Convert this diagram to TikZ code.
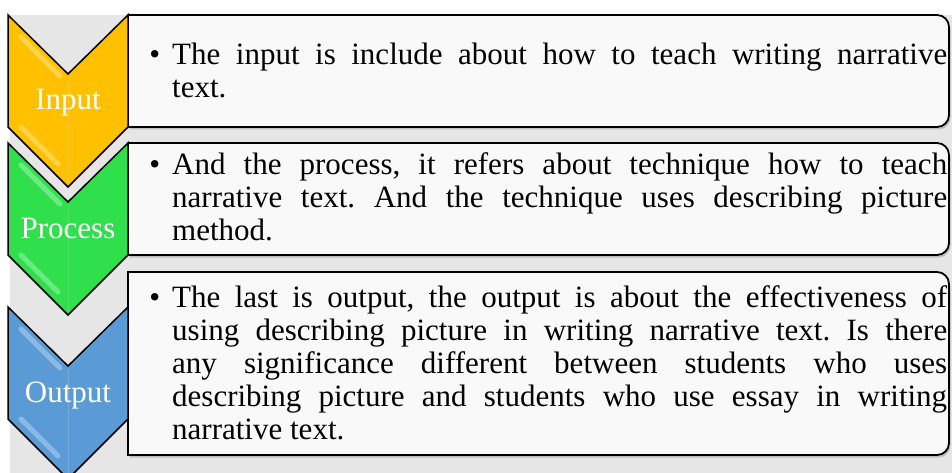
\documentclass[tikz,border=0pt]{standalone}
\usepackage{fontspec}
\setmainfont{Liberation Serif}
\usepackage{xcolor}
\usepackage{tikz}
\usetikzlibrary{positioning}
\definecolor{gold}{HTML}{FFC000}
\definecolor{leaf}{HTML}{30DF4C}
\definecolor{sky}{HTML}{5B9BD5}
\definecolor{panel}{HTML}{E6E6E6}
\definecolor{card}{HTML}{F9F9F9}
% one stretched line of a justified paragraph, and the hanging bullet
\newcommand\fullline[1]{\leavevmode\hbox to 775pt{#1}}
\newcommand\bul{\llap{\textbullet\hspace{12pt}}}
% text card, square on the left and rounded on the right
\newcommand\cardpath[2]{(128,-#1) -- (937,-#1) arc[start angle=90,end angle=0,radius=12] -- (949,-#2+12) arc[start angle=0,end angle=-90,radius=12] -- (128,-#2) -- cycle}

\begin{document}
\frenchspacing
\begin{tikzpicture}[x=1pt,y=1pt,
  chevline/.style={black,line width=1.5pt,line join=miter},
  cardline/.style={black,line width=1.8pt,fill=card},
  gloss/.style={white,line width=5pt,line cap=round,opacity=0.3},
  lbl/.style={anchor=base,inner sep=0,text=white,font=\fontsize{31}{33}\selectfont},
  txt/.style={anchor=base west,inner sep=0,text width=775pt,align=justify,font=\fontsize{31}{33}\selectfont},
  chev/.pic={
    \draw[chevline,fill=#1] (0,0) -- (60,-59) -- (120,0) -- (120,-112) -- (60,-172) -- (0,-112) -- cycle;
    \draw[gloss] (13,-22) -- (52,-61);
    \draw[gloss] (13,-112) -- (50,-149);
    \draw[white,opacity=0.15,line width=1pt] (60,-62) -- (60,-168);
  }]
\useasboundingbox (0,0) rectangle (952,-473);
\clip (0,0) rectangle (952,-473);
\fill[panel] (10,-15) rectangle (952,-473);

% cards with their shadows
\fill[black!40,opacity=0.5,shift={(1.5,-2.5)}] \cardpath{15}{127};
\draw[cardline] \cardpath{15}{127};
\fill[black!40,opacity=0.5,shift={(1.5,-2.5)}] \cardpath{143}{255};
\draw[cardline] \cardpath{143}{255};
\fill[black!40,opacity=0.5,shift={(1.5,-2.5)}] \cardpath{272}{455};
\draw[cardline] \cardpath{272}{455};

% chevrons
\pic at (8,-15) {chev=gold};
\pic at (8,-143) {chev=leaf};
\pic at (8,-307) {chev=sky};

\node[lbl] (lin) at (68,-110) {Input};
\node[lbl] (lproc) at (68,-238) {Process};
\node[lbl] (lout) at (68,-402) {Output};

\node[txt] (tin) at (172,-65) {\fullline{\bul The input is include about how to teach writing narrative}\\
text.};
\node[txt] (tproc) at (172,-175) {\fullline{\bul And the process, it refers about technique how to teach}\\
\fullline{narrative text. And the technique uses describing picture}\\
method.};
\node[txt] (tout) at (172,-307) {\fullline{\bul The last is output, the output is about the effectiveness of}\\
\fullline{using describing picture in writing narrative text. Is there}\\
\fullline{any significance different between students who uses}\\
\fullline{describing picture and students who use essay in writing}\\
narrative text.};
\end{tikzpicture}
\end{document}
